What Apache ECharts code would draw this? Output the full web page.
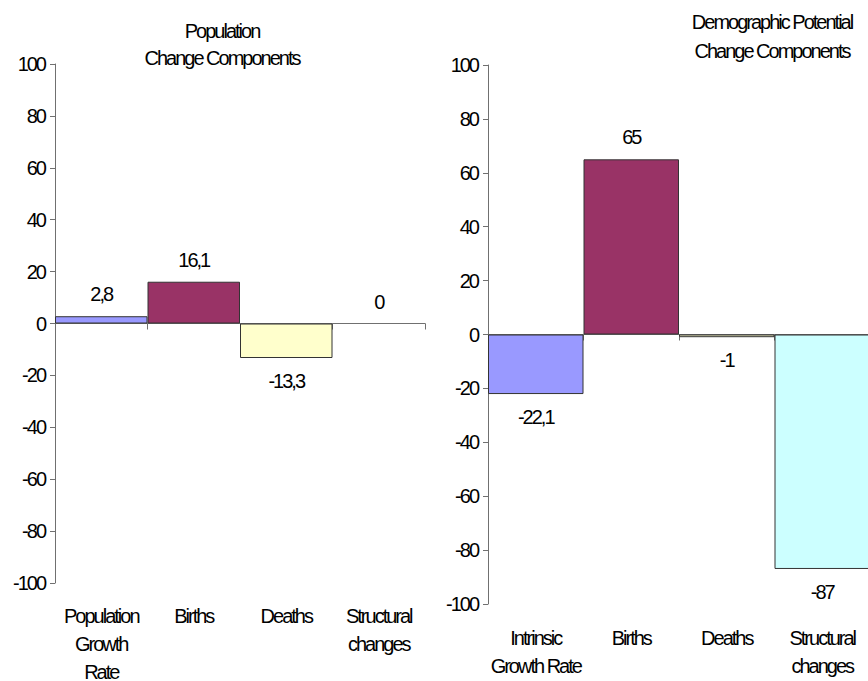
<!DOCTYPE html>
<html>
<head>
<meta charset="utf-8">
<title>Population and Demographic Potential Change Components</title>
<script src="https://cdn.jsdelivr.net/npm/echarts@6/dist/echarts.min.js"></script>
<style>
  html, body { margin: 0; padding: 0; background: #ffffff; }
  #chart { width: 868px; height: 681px; }
  /* tight tracking for all chart text */
  #chart svg text { letter-spacing: -2px; }
</style>
</head>
<body>
<div id="chart"></div>
<script>
// Component values for each panel
const leftCategories = ['Population\nGrowth\nRate', 'Births', 'Deaths', 'Structural\nchanges'];
const leftValues = [2.8, 16.1, -13.3, 0];

const rightCategories = ['Intrinsic\nGrowth Rate', 'Births', 'Deaths', 'Structural\nchanges'];
const rightValues = [-22.1, 65, -1, -87];

const leftTitle = 'Population\nChange Components';
const rightTitle = 'Demographic Potential\nChange Components';

const barColors = ['#9999FF', '#993366', '#FFFFCC', '#CCFFFF'];
const yMin = -100, yMax = 100, yStep = 20;

const FONT = '"Liberation Sans", Arial, sans-serif';
const FS = 20;
const AXIS_COLOR = '#707070';

const chart = echarts.init(document.getElementById('chart'), null, { renderer: 'svg' });

function fmt(v) {
  return String(v).replace('.', ',');
}

function barData(values) {
  return values.map((v, i) => ({
    value: v,
    itemStyle: { color: barColors[i], borderWidth: v === 0 ? 0 : 1 },
    label: { position: v < 0 ? 'bottom' : 'top', distance: v < 0 ? 13 : 12 }
  }));
}

function yAxisFor(gridIndex) {
  return {
    type: 'value',
    gridIndex: gridIndex,
    min: yMin,
    max: yMax,
    interval: yStep,
    splitLine: { show: false },
    axisLine: { show: true, lineStyle: { color: AXIS_COLOR, width: 1 } },
    axisTick: { show: true, length: 5, lineStyle: { color: AXIS_COLOR } },
    axisLabel: { color: '#000', fontFamily: FONT, fontSize: FS, margin: 10 }
  };
}

function xAxesFor(gridIndex, categories, labelMargin) {
  return [
    {
      // zero line with boundary ticks
      type: 'category',
      gridIndex: gridIndex,
      data: categories,
      axisLine: { show: true, onZero: true, lineStyle: { color: AXIS_COLOR, width: 1 } },
      axisTick: { show: true, length: 6, lineStyle: { color: AXIS_COLOR } },
      axisLabel: { show: false }
    },
    {
      // category names below the plot area
      type: 'category',
      gridIndex: gridIndex,
      data: categories,
      position: 'bottom',
      axisLine: { show: false, onZero: false },
      axisTick: { show: false },
      axisLabel: {
        color: '#000', fontFamily: FONT, fontSize: FS,
        lineHeight: 28, margin: labelMargin, interval: 0
      }
    }
  ];
}

function barSeries(axisIndex, values) {
  return {
    type: 'bar',
    xAxisIndex: axisIndex,
    yAxisIndex: axisIndex / 2,
    barCategoryGap: '0%',
    data: barData(values),
    itemStyle: { borderColor: '#333333' },
    label: {
      show: true,
      color: '#000',
      fontFamily: FONT,
      fontSize: FS,
      formatter: p => fmt(p.value)
    },
    emphasis: { disabled: true },
    animation: false
  };
}

const option = {
  backgroundColor: '#ffffff',
  animation: false,
  grid: [
    { left: 55, top: 64, width: 370, height: 519, outerBoundsMode: 'none', containLabel: false },
    { left: 488, top: 65, width: 382, height: 539, outerBoundsMode: 'none', containLabel: false }
  ],
  xAxis: [
    ...xAxesFor(0, leftCategories, 19),
    ...xAxesFor(1, rightCategories, 20)
  ],
  yAxis: [yAxisFor(0), yAxisFor(1)],
  series: [
    barSeries(0, leftValues),
    barSeries(2, rightValues)
  ],
  graphic: [
    {
      type: 'text', x: 222, y: 17,
      style: {
        text: leftTitle, fill: '#000', font: FS + 'px ' + FONT,
        lineHeight: 27, align: 'center', verticalAlign: 'top'
      }
    },
    {
      type: 'text', x: 772, y: 7,
      style: {
        text: rightTitle, fill: '#000', font: FS + 'px ' + FONT,
        lineHeight: 29, align: 'center', verticalAlign: 'top'
      }
    }
  ]
};

chart.setOption(option);
</script>
</body>
</html>
